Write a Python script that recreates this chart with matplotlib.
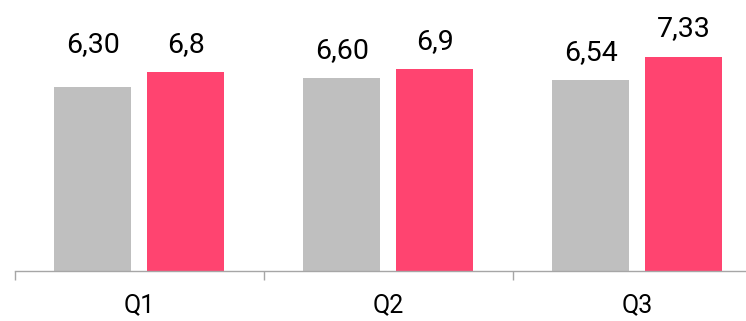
import matplotlib
matplotlib.use("Agg")
import matplotlib.pyplot as plt
import numpy as np

plt.rcParams['font.family'] = ['Roboto', 'DejaVu Sans']

quarters = ['Q1', 'Q2', 'Q3']
prev_vals = [6.30, 6.60, 6.54]
curr_vals = [6.8, 6.9, 7.33]
prev_labels = ['6,30', '6,60', '6,54']
curr_labels = ['6,8', '6,9', '7,33']

gray = '#BFBFBF'
pink = '#FF4470'
axis_col = '#A6A6A6'

fig = plt.figure(figsize=(7.46, 3.21), dpi=100)
ax = fig.add_axes([14.7 / 746, 50 / 321, 747 / 746, 271 / 321])

x = np.arange(len(quarters))
w = 0.31
off = 0.187
b1 = ax.bar(x - off, prev_vals, w, color=gray)
b2 = ax.bar(x + off, curr_vals, w, color=pink)

# etiquetas por cima das barras (Q1 cinza alinhada com a rosa)
for i in range(len(quarters)):
    ax.annotate(curr_labels[i], (x[i] + off, curr_vals[i]), xytext=(0, 14.5),
                textcoords='offset points', ha='center', va='baseline', fontsize=20.5)
    yv = prev_vals[i]
    if i == 0:
        yv = curr_vals[i]
    ax.annotate(prev_labels[i], (x[i] - off, yv), xytext=(0, 14.5),
                textcoords='offset points', ha='center', va='baseline', fontsize=20.5)

ax.set_xlim(-0.5, 2.5)
ax.set_ylim(0, 271 / 29.25)

for s in ['top', 'right', 'left']:
    ax.spines[s].set_visible(False)
ax.spines['bottom'].set_color(axis_col)
ax.spines['bottom'].set_linewidth(1.0)

ax.set_yticks([])
ax.set_xticks([-0.5, 0.5, 1.5, 2.5])
ax.set_xticklabels([])
ax.set_xticks(x, minor=True)
ax.set_xticklabels(quarters, minor=True, fontsize=18)
ax.tick_params(axis='x', which='major', length=6.5, width=1.0, color=axis_col, direction='out')
ax.tick_params(axis='x', which='minor', length=0, pad=16)

fig.savefig('out.png', dpi=100)
